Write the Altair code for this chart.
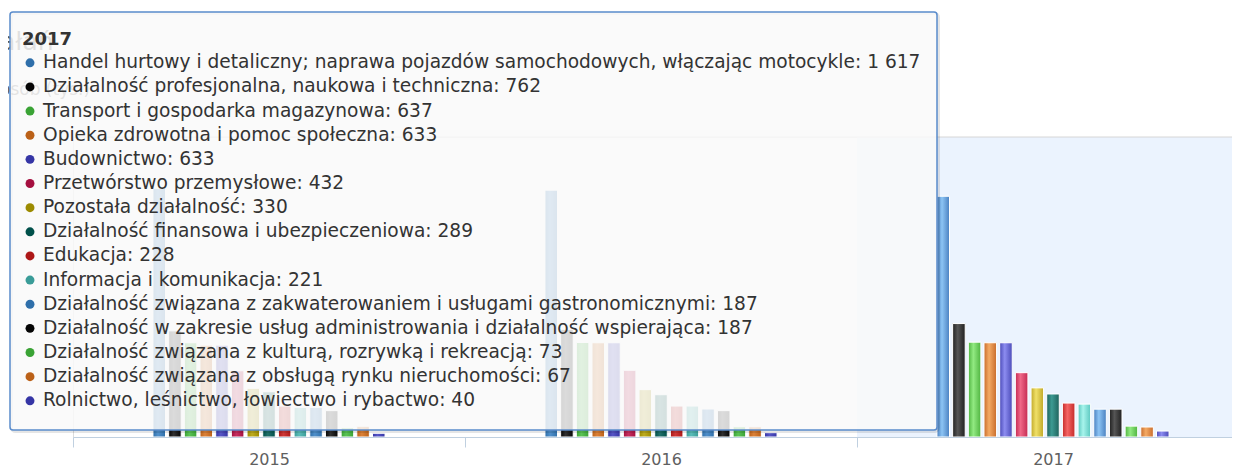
import altair as alt
import pandas as pd

years = ["2015", "2016", "2017"]
names = [
    "Handel hurtowy i detaliczny; naprawa pojazdów samochodowych, włączając motocykle",
    "Działalność profesjonalna, naukowa i techniczna",
    "Transport i gospodarka magazynowa",
    "Opieka zdrowotna i pomoc społeczna",
    "Budownictwo",
    "Przetwórstwo przemysłowe",
    "Pozostała działalność",
    "Działalność finansowa i ubezpieczeniowa",
    "Edukacja",
    "Informacja i komunikacja",
    "Działalność związana z zakwaterowaniem i usługami gastronomicznymi",
    "Działalność w zakresie usług administrowania i działalność wspierająca",
    "Działalność związana z kulturą, rozrywką i rekreacją",
    "Działalność związana z obsługą rynku nieruchomości",
    "Rolnictwo, leśnictwo, łowiectwo i rybactwo",
]
v2015 = [1670, 713, 633, 617, 617, 445, 327, 304, 208, 199, 199, 177, 62, 72, 25]
v2016 = [1658, 723, 635, 633, 633, 448, 318, 284, 208, 208, 188, 177, 69, 69, 29]
v2017 = [1617, 762, 637, 633, 633, 432, 330, 289, 228, 221, 187, 187, 73, 67, 40]

palette_base = ["#2f6faa", "#050505", "#3aa335", "#bb6118", "#3535a5",
                "#a50f3f", "#9c8b00", "#00504a", "#ad1717", "#3a9c98"]
palette_base_light = ["#4f8fca", "#303030", "#5ac355", "#db8138", "#5555c5",
                      "#c52f5f", "#bcab20", "#20706a", "#cd3737", "#5abcb8"]
palette_hover_edge = ["#4a80c0", "#202020", "#4fb440", "#c86c2c", "#4b4bb8",
                      "#c42a52", "#c0a828", "#1f625c", "#c42a2a", "#5cc8c0"]
palette_hover_light = ["#8cc4f4", "#555555", "#92ea82", "#f4aa64", "#8c8cf0",
                       "#f06888", "#f0e068", "#3c9a92", "#f46464", "#a8f4ec"]

n = len(names)
base_colors = [palette_base[i % 10] for i in range(n)]


def grad(edge, light):
    return {"gradient": "linear", "x1": 0, "x2": 1, "y1": 0, "y2": 0,
            "stops": [{"offset": 0, "color": edge},
                      {"offset": 0.4, "color": light},
                      {"offset": 1, "color": edge}]}


rows = []
for yr, vals in zip(years, [v2015, v2016, v2017]):
    for nm, v in zip(names, vals):
        rows.append({"year": yr, "series": nm, "value": v})
df = pd.DataFrame(rows)


def fmt(v):
    return f"{v:,}".replace(",", " ")


tip = pd.DataFrame({
    "series": names,
    "row": list(range(n)),
    "label": [f"{nm}: {fmt(v)}" for nm, v in zip(names, v2017)],
})

FONT = "DejaVu Sans"

X = alt.X(
    "year:N",
    scale=alt.Scale(domain=years, range=[0, 1176], paddingInner=0, paddingOuter=0),
    axis=alt.Axis(title=None, labelAngle=0, tickBand="extent", domainColor="#C0D0E0",
                  tickColor="#C0D0E0", tickSize=10, labelFontSize=16, labelColor="#606060",
                  labelFont=FONT, labelPadding=4, grid=False),
)
XO = alt.XOffset("series:N", scale=alt.Scale(domain=names, range=[78.4, 313.6],
                                             paddingInner=0.2, paddingOuter=0.1))
Y = alt.Y("value:Q", scale=alt.Scale(domain=[0, 2015], nice=False, zero=True), axis=None)

one = pd.DataFrame({"k": [0]})

band = alt.Chart(pd.DataFrame({"year": [years[-1]]})).mark_rect(color="#ebf3fe").encode(
    x=X, y=alt.value(0), y2=alt.value(300)
)
top_rule = alt.Chart(one).mark_rule(color="#d6d6d6", strokeWidth=1).encode(
    x=alt.value(0), x2=alt.value(1176), y=alt.value(0)
)

bar_layers = []
for i, nm in enumerate(names):
    c = i % 10
    bar_layers.append(
        alt.Chart(df).transform_filter(alt.datum.series == nm).mark_bar(
            stroke="white", strokeWidth=1
        ).encode(
            x=X, xOffset=XO, y=Y,
            color=alt.condition(
                alt.datum.year == years[-1],
                alt.value(grad(palette_hover_edge[c], palette_hover_light[c])),
                alt.value(grad(palette_base[c], palette_base_light[c])),
            ),
        )
    )

title1 = alt.Chart(one).mark_text(align="left", baseline="alphabetic", fontSize=25,
                                  color="#555555", font=FONT).encode(
    x=alt.value(-73), y=alt.value(-87), text=alt.value("ałań"))
title2 = alt.Chart(one).mark_text(align="left", baseline="alphabetic", fontSize=17,
                                  color="#666666", font=FONT).encode(
    x=alt.value(-73), y=alt.value(-42), text=alt.value("osób (tys.)"))

shadow = alt.Chart(one).mark_rect(fillOpacity=0, stroke="#000000", strokeOpacity=0.1,
                                  strokeWidth=3, cornerRadius=4).encode(
    x=alt.value(-61.5), x2=alt.value(865.5), y=alt.value(-123.5), y2=alt.value(294.5))
tipbox = alt.Chart(one).mark_rect(fill="#f9f9f9", fillOpacity=0.85, stroke="#5a8ccc",
                                  strokeWidth=1.5, cornerRadius=3).encode(
    x=alt.value(-63), x2=alt.value(864), y=alt.value(-125), y2=alt.value(293))

tip_title = alt.Chart(pd.DataFrame({"t": [years[-1]]})).mark_text(
    align="left", baseline="alphabetic", fontSize=18, fontWeight="bold",
    color="#333333", font=FONT).encode(x=alt.value(-51), y=alt.value(-92), text="t:N")

RY = alt.Y("row:Q", scale=alt.Scale(domain=[0, n - 1], range=[-68.7, 269.3], nice=False, zero=False),
           axis=None)
bullets = alt.Chart(tip).mark_circle(size=80, opacity=1, yOffset=-5.5).encode(
    x=alt.value(-43), y=RY,
    color=alt.Color("series:N", scale=alt.Scale(domain=names, range=base_colors), legend=None),
)
labels = alt.Chart(tip).mark_text(align="left", baseline="alphabetic", fontSize=18.6,
                                  color="#333333", font=FONT).encode(
    x=alt.value(-30), y=RY, text="label:N")

chart = alt.layer(
    band, top_rule, *bar_layers, title1, title2, shadow, tipbox, tip_title, bullets, labels
).resolve_scale(y="independent").properties(
    width=1159, height=300,
    autosize=alt.AutoSizeParams(type="none"),
    padding={"left": 65, "top": 129, "right": 0, "bottom": 31},
).configure_view(strokeWidth=0).configure(font=FONT)

chart.save("out.html", embed_options={"renderer": "svg", "actions": False})
